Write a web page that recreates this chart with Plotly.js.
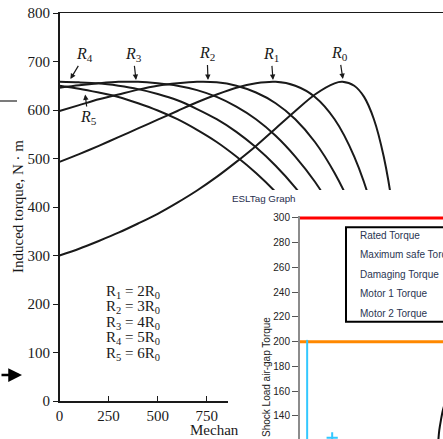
<!DOCTYPE html>
<html>
<head>
<meta charset="utf-8">
<script src="https://cdn.plot.ly/plotly-3.0.1.min.js"></script>
<style>html,body{margin:0;padding:0;background:#fff;}#chart{width:443px;height:439px;}</style>
</head>
<body>
<div id="chart"></div>
<script>
// ---- Main chart data (induced torque vs mechanical speed) ----
const speed = [0,100,200,300,400,500,600,700,800,900,1000,1100,1200,1300,1400,1500,1600,1700,1800];
const speedR0 = [0,100,200,300,400,500,600,700,800,900,1000,1100,1200,1300,1400,1440,1500,1550,1600,1650,1700,1750,1800];
const torqueR0 = [300,314,330,347,366,386,409,434,462,493,526,562,598,632,655,658,650,627,581,504,387,220,0];
const torqueR1 = [493,509,526,544,562,580,598,616,632,646,655,658,650,627,581,504,387,220,0];
const torqueR2 = [598,610,622,632,642,650,655,658,657,650,636,614,581,534,470,387,282,153,0];
const torqueR3 = [646,651,655,658,658,655,650,641,627,607,581,547,504,452,387,310,220,117,0];
const torqueR4 = [658,657,655,650,643,633,620,602,581,555,523,485,440,387,327,258,180,94,0];
const torqueR5 = [650,644,636,627,614,599,581,559,534,504,470,431,387,337,282,220,153,79,0];
const xTicks = [0,250,500,750,1000,1250,1500,1750];
const curveLabels = ['<i>R</i><sub>4</sub>','<i>R</i><sub>3</sub>','<i>R</i><sub>2</sub>','<i>R</i><sub>1</sub>','<i>R</i><sub>0</sub>','<i>R</i><sub>5</sub>'];
const labelTipSpeed = [53, 390, 756, 1087, 1443, 130];
const labelTipTorque = [662, 660, 660, 660, 662, 634];
const resistanceNotes = ['R<sub>1</sub> = 2R<sub>0</sub>','R<sub>2</sub> = 3R<sub>0</sub>','R<sub>3</sub> = 4R<sub>0</sub>','R<sub>4</sub> = 5R<sub>0</sub>','R<sub>5</sub> = 6R<sub>0</sub>'];

// ---- Inset chart data (ESLTag Graph) ----
const insetTime = [0, 10];
const ratedTorque = [300, 300];
const safeTorque = [200, 200];
const motor1X = [0.5, 0.5];
const motor1Y = [201.5, 110];
const motor1MarkX = [2.25];
const motor1MarkY = [122.4];
const motor2X = [9.66, 9.74, 9.86, 10.0, 10.1];
const motor2Y = [118, 128.5, 137, 145, 149];
const insetLegend = ['Rated Torque','Maximum safe Torque','Damaging Torque','Motor 1 Torque','Motor 2 Torque'];

const W = 443, H = 439;
const px = x => x / W;
const py = y => 1 - y / H;

const curve = (x, y) => ({
  x: x, y: y, xaxis: 'x', yaxis: 'y', type: 'scatter', mode: 'lines',
  line: {color: '#1a1a1a', width: 2, shape: 'spline', smoothing: 0.8},
  hoverinfo: 'skip'
});

const traces = [
  curve(speedR0, torqueR0),
  curve(speed, torqueR1),
  curve(speed, torqueR2),
  curve(speed, torqueR3),
  curve(speed, torqueR4),
  curve(speed, torqueR5),
  // cover subplot (white background of the pasted screenshot)
  {x: [0.5], y: [0.5], xaxis: 'x2', yaxis: 'y2', type: 'scatter', mode: 'markers', marker: {opacity: 0}, hoverinfo: 'skip'},
  // inset traces
  {x: insetTime, y: ratedTorque, xaxis: 'x3', yaxis: 'y3', type: 'scatter', mode: 'lines', name: 'Damaging Torque', line: {color: '#ff0000', width: 3}, hoverinfo: 'skip'},
  {x: insetTime, y: safeTorque, xaxis: 'x3', yaxis: 'y3', type: 'scatter', mode: 'lines', name: 'Maximum safe Torque', line: {color: '#ff8800', width: 3}, hoverinfo: 'skip'},
  {x: motor1X, y: motor1Y, xaxis: 'x3', yaxis: 'y3', type: 'scatter', mode: 'lines', name: 'Motor 1 Torque', line: {color: '#33c8ff', width: 2}, hoverinfo: 'skip'},
  {x: motor1MarkX, y: motor1MarkY, xaxis: 'x3', yaxis: 'y3', type: 'scatter', mode: 'markers', marker: {symbol: 'cross-thin', size: 8, line: {color: '#33c8ff', width: 2}}, hoverinfo: 'skip'},
  {x: motor2X, y: motor2Y, xaxis: 'x3', yaxis: 'y3', type: 'scatter', mode: 'lines', name: 'Motor 2 Torque', line: {color: '#111', width: 2, shape: 'spline'}, hoverinfo: 'skip'}
];

const serif = 'Liberation Serif, Times New Roman, serif';
const sans = 'Liberation Sans, Arial, sans-serif';

const annotations = [];
// curve labels with arrows
const labelOffsets = [[15,-25],[-3,-26],[-1,-27],[-2,-26],[-4,-26],[3,24]];
curveLabels.forEach((t, i) => {
  annotations.push({
    text: t, x: labelTipSpeed[i], y: labelTipTorque[i], xref: 'x', yref: 'y',
    showarrow: true, ax: labelOffsets[i][0], ay: labelOffsets[i][1],
    arrowhead: 2, arrowsize: 0.9, arrowwidth: 1.2, arrowcolor: '#1a1a1a', standoff: 1,
    font: {family: serif, size: 16, color: '#1a1a1a'}
  });
});
resistanceNotes.forEach((t, i) => {
  annotations.push({
    text: t, x: px(104), y: py(291.5 + 15.6 * i), xref: 'paper', yref: 'paper',
    xanchor: 'left', yanchor: 'middle', showarrow: false,
    font: {family: serif, size: 15, color: '#1a1a1a'}
  });
});
annotations.push({
  text: 'Induced torque, N · m', x: px(18), y: py(207), xref: 'paper', yref: 'paper',
  textangle: -90, showarrow: false, xanchor: 'center', yanchor: 'middle',
  font: {family: serif, size: 15, color: '#1a1a1a'}
});
annotations.push({
  text: 'Mechan', x: px(188), y: py(430), xref: 'paper', yref: 'paper',
  xanchor: 'left', yanchor: 'middle', showarrow: false,
  font: {family: serif, size: 15, color: '#1a1a1a'}
});
// stray arrow at left edge
annotations.push({
  text: '', x: px(22), y: py(375), xref: 'paper', yref: 'paper',
  showarrow: true, ax: -26, ay: 0, arrowhead: 2, arrowsize: 1.1, arrowwidth: 2.5, arrowcolor: '#000', standoff: 0
});
// inset texts
annotations.push({
  text: 'ESLTag Graph', x: px(230), y: py(198), xref: 'paper', yref: 'paper',
  xanchor: 'left', yanchor: 'middle', showarrow: false,
  font: {family: sans, size: 9.8, color: '#1f2d4d'}
});
annotations.push({
  text: 'Shock Load air-gap Torque', x: px(266), y: py(377), xref: 'paper', yref: 'paper',
  textangle: -90, xanchor: 'center', yanchor: 'middle', showarrow: false,
  font: {family: sans, size: 10, color: '#222'}
});
insetLegend.forEach((t, i) => {
  annotations.push({
    text: t, x: px(358), y: py(235 + 19.5 * i), xref: 'paper', yref: 'paper',
    xanchor: 'left', yanchor: 'middle', showarrow: false,
    font: {family: sans, size: 10, color: '#2a3552'}
  });
});

const shapes = [
  {type: 'rect', xref: 'paper', yref: 'paper', x0: px(346), x1: px(470), y0: py(321.7), y1: py(227.3),
   line: {color: '#000', width: 2}, fillcolor: '#fff', layer: 'above'},
  {type: 'line', xref: 'paper', yref: 'paper', x0: 0, x1: px(17), y0: py(101), y1: py(101),
   line: {color: '#222', width: 1.2}}
];

const layout = {
  width: W, height: H,
  margin: {l: 0, r: 0, t: 0, b: 0, pad: 0},
  paper_bgcolor: '#fff', plot_bgcolor: '#fff',
  showlegend: false,
  xaxis: {
    domain: [px(59.5), 1], range: [0, 1951.7], anchor: 'y',
    showline: true, mirror: true, linecolor: '#1a1a1a', linewidth: 1.5,
    ticks: 'inside', ticklen: 5, tickcolor: '#1a1a1a', tickvals: xTicks,
    showgrid: false, zeroline: false,
    tickfont: {family: serif, size: 15, color: '#1a1a1a'}
  },
  yaxis: {
    domain: [py(401), py(13)], range: [0, 800], anchor: 'x',
    showline: true, linecolor: '#1a1a1a', linewidth: 1.5,
    ticks: 'outside', ticklen: 5, tickcolor: '#1a1a1a', dtick: 100, tick0: 0,
    showgrid: false, zeroline: false,
    tickfont: {family: serif, size: 15, color: '#1a1a1a'}
  },
  xaxis2: {domain: [px(228), 1], range: [0, 1], anchor: 'y2', visible: false},
  yaxis2: {domain: [0, py(190)], range: [0, 1], anchor: 'x2', visible: false},
  xaxis3: {domain: [px(300), 1], range: [0, 10], anchor: 'y3', visible: false},
  yaxis3: {
    domain: [0, py(216)], range: [121.4, 301.6], anchor: 'x3',
    showline: true, linecolor: '#8c8c8c', linewidth: 2,
    ticks: 'outside', ticklen: 6, tickcolor: '#555', tickwidth: 1, dtick: 20, tick0: 0,
    showgrid: false, zeroline: false,
    tickfont: {family: sans, size: 10, color: '#222'}
  },
  annotations: annotations,
  shapes: shapes
};

Plotly.newPlot('chart', traces, layout, {staticPlot: true, displayModeBar: false});
</script>
</body>
</html>
